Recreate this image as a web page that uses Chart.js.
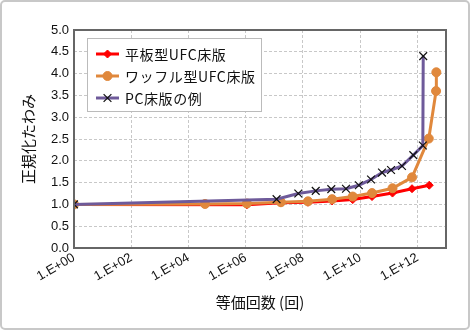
<!DOCTYPE html>
<html>
<head>
<meta charset="utf-8">
<script src="https://cdn.jsdelivr.net/npm/chart.js@4.4.1/dist/chart.umd.min.js"></script>
<style>
  html, body { margin: 0; padding: 0; background: #fff; }
  #wrap { width: 470px; height: 330px; position: relative; }
</style>
</head>
<body>
<div id="wrap"><canvas id="chart" width="470" height="330"></canvas></div>
<script>
// Data
const flatLabel = '平板型UFC床版';
const flatX = [1, 1.1e6, 1.7e7, 1.5e8, 1.05e9, 5.5e9, 2.6e10, 1.35e11, 6.5e11, 2.6e12];
const flatY = [1.0, 0.99, 1.04, 1.05, 1.08, 1.11, 1.18, 1.26, 1.36, 1.44];

const waffleLabel = 'ワッフル型UFC床版';
const waffleX = [1, 3.8e4, 1.1e6, 1.7e7, 1.5e8, 1.05e9, 5.5e9, 2.6e10, 1.35e11, 6.5e11, 2.5e12, 4.5e12, 4.6e12];
const waffleY = [1.0, 1.01, 1.02, 1.05, 1.07, 1.12, 1.18, 1.26, 1.37, 1.62, 2.51, 3.60, 4.03];

const pcLabel = 'PC床版の例';
const pcX = [1, 1.2e7, 6.9e7, 2.8e8, 9.8e8, 3.2e9, 9.0e9, 2.4e10, 5.8e10, 1.2e11, 2.9e11, 7.2e11, 1.55e12, 1.6e12];
const pcY = [1.0, 1.12, 1.25, 1.31, 1.35, 1.36, 1.44, 1.57, 1.73, 1.79, 1.88, 2.13, 2.35, 4.40];

const xTicks = [1, 1e2, 1e4, 1e6, 1e8, 1e10, 1e12];
const xTitle = '等価回数 (回)';
const yTitle = '正規化たわみ';

const toPoints = (xs, ys) => xs.map((x, i) => ({ x: x, y: ys[i] }));

const jp = "'Noto Sans CJK JP', sans-serif";
const latin = "'Liberation Sans', Arial, sans-serif";

// Frame around the page, plot border and the legend box
const decorPlugin = {
    id: 'decor',
    beforeDraw(chart) {
        const ctx = chart.ctx;
        ctx.save();
        ctx.fillStyle = '#fff';
        ctx.fillRect(0, 0, chart.width, chart.height);
        ctx.strokeStyle = '#c8c8c8';
        ctx.lineWidth = 2;
        ctx.beginPath();
        ctx.roundRect(1, 1, chart.width - 2, chart.height - 2, 4);
        ctx.stroke();
        ctx.restore();
    },
    afterDatasetsDraw(chart) {
        const ctx = chart.ctx;
        const a = chart.chartArea;
        ctx.save();
        ctx.strokeStyle = '#666';
        ctx.lineWidth = 2;
        ctx.strokeRect(a.left, a.top, a.right - a.left, a.bottom - a.top);

        // legend
        ctx.fillStyle = '#fff';
        ctx.fillRect(88, 39, 173, 72);
        ctx.strokeStyle = '#bbb';
        ctx.lineWidth = 1;
        ctx.strokeRect(87.5, 38.5, 174, 73);
        ctx.font = '14px ' + jp;
        ctx.letterSpacing = '0.6px';
        ctx.textBaseline = 'middle';
        chart.data.datasets.forEach((ds, i) => {
            const y = 54 + i * 22;
            ctx.strokeStyle = ds.borderColor;
            ctx.lineWidth = 3;
            ctx.beginPath();
            ctx.moveTo(96, y);
            ctx.lineTo(119, y);
            ctx.stroke();
            ctx.fillStyle = ds.pointBackgroundColor;
            ctx.strokeStyle = ds.pointBorderColor;
            ctx.lineWidth = ds.pointBorderWidth;
            Chart.helpers.drawPoint(ctx, {
                pointStyle: ds.pointStyle,
                radius: ds.pointRadius,
                borderWidth: ds.pointBorderWidth
            }, 107.5, y);
            ctx.fillStyle = '#111';
            ctx.fillText(ds.label, 125, y + 1);
        });
        ctx.restore();
    }
};

const ctx = document.getElementById('chart').getContext('2d');
const chart = new Chart(ctx, {
    type: 'line',
    data: {
        datasets: [
            {
                label: flatLabel,
                data: toPoints(flatX, flatY),
                borderColor: '#ff0000',
                backgroundColor: '#ff0000',
                pointBackgroundColor: '#ff0000',
                pointBorderColor: '#ff0000',
                pointStyle: 'rectRot',
                pointRadius: 4,
                pointBorderWidth: 1,
                borderWidth: 3,
                order: 3
            },
            {
                label: waffleLabel,
                data: toPoints(waffleX, waffleY),
                borderColor: '#e0883c',
                backgroundColor: '#e0883c',
                pointBackgroundColor: '#e0883c',
                pointBorderColor: '#e0883c',
                pointStyle: 'circle',
                pointRadius: 4.5,
                pointBorderWidth: 1,
                borderWidth: 3,
                order: 2
            },
            {
                label: pcLabel,
                data: toPoints(pcX, pcY),
                borderColor: '#6e5a9a',
                backgroundColor: '#6e5a9a',
                pointBackgroundColor: '#111',
                pointBorderColor: '#111',
                pointStyle: 'crossRot',
                pointRadius: 5.5,
                pointBorderWidth: 1.2,
                borderWidth: 3,
                order: 1
            }
        ]
    },
    options: {
        responsive: false,
        animation: false,
        events: [],
        layout: { padding: { left: 0, right: 24, top: 30, bottom: 0 } },
        plugins: {
            legend: { display: false },
            tooltip: { enabled: false }
        },
        scales: {
            x: {
                type: 'logarithmic',
                min: 1,
                max: 1e13,
                afterBuildTicks: scale => {
                    scale.ticks = xTicks.map(v => ({ value: v }));
                },
                afterFit: scale => { scale.height = 82; },
                ticks: {
                    minRotation: 30,
                    maxRotation: 30,
                    autoSkip: false,
                    padding: 2,
                    color: '#111',
                    font: { family: latin, size: 13 },
                    callback: v => '1.E+' + String(Math.round(Math.log10(v))).padStart(2, '0')
                },
                grid: { color: '#c8c8c8', lineWidth: 1, drawTicks: false },
                border: { display: false, dash: [3, 2] },
                title: {
                    display: true,
                    text: xTitle,
                    color: '#111',
                    font: { family: jp, size: 15 },
                    padding: { top: 0, bottom: 19 }
                }
            },
            y: {
                min: 0,
                max: 5,
                afterFit: scale => { scale.width = 74; },
                ticks: {
                    stepSize: 0.5,
                    padding: 5,
                    color: '#111',
                    font: { family: latin, size: 13 },
                    callback: v => v.toFixed(1)
                },
                grid: { color: '#c8c8c8', lineWidth: 1, drawTicks: false },
                border: { display: false, dash: [3, 2] },
                title: {
                    display: true,
                    text: yTitle,
                    color: '#111',
                    font: { family: jp, size: 15 },
                    padding: { top: 19, bottom: 0 }
                }
            }
        }
    },
    plugins: [decorPlugin]
});
</script>
</body>
</html>
